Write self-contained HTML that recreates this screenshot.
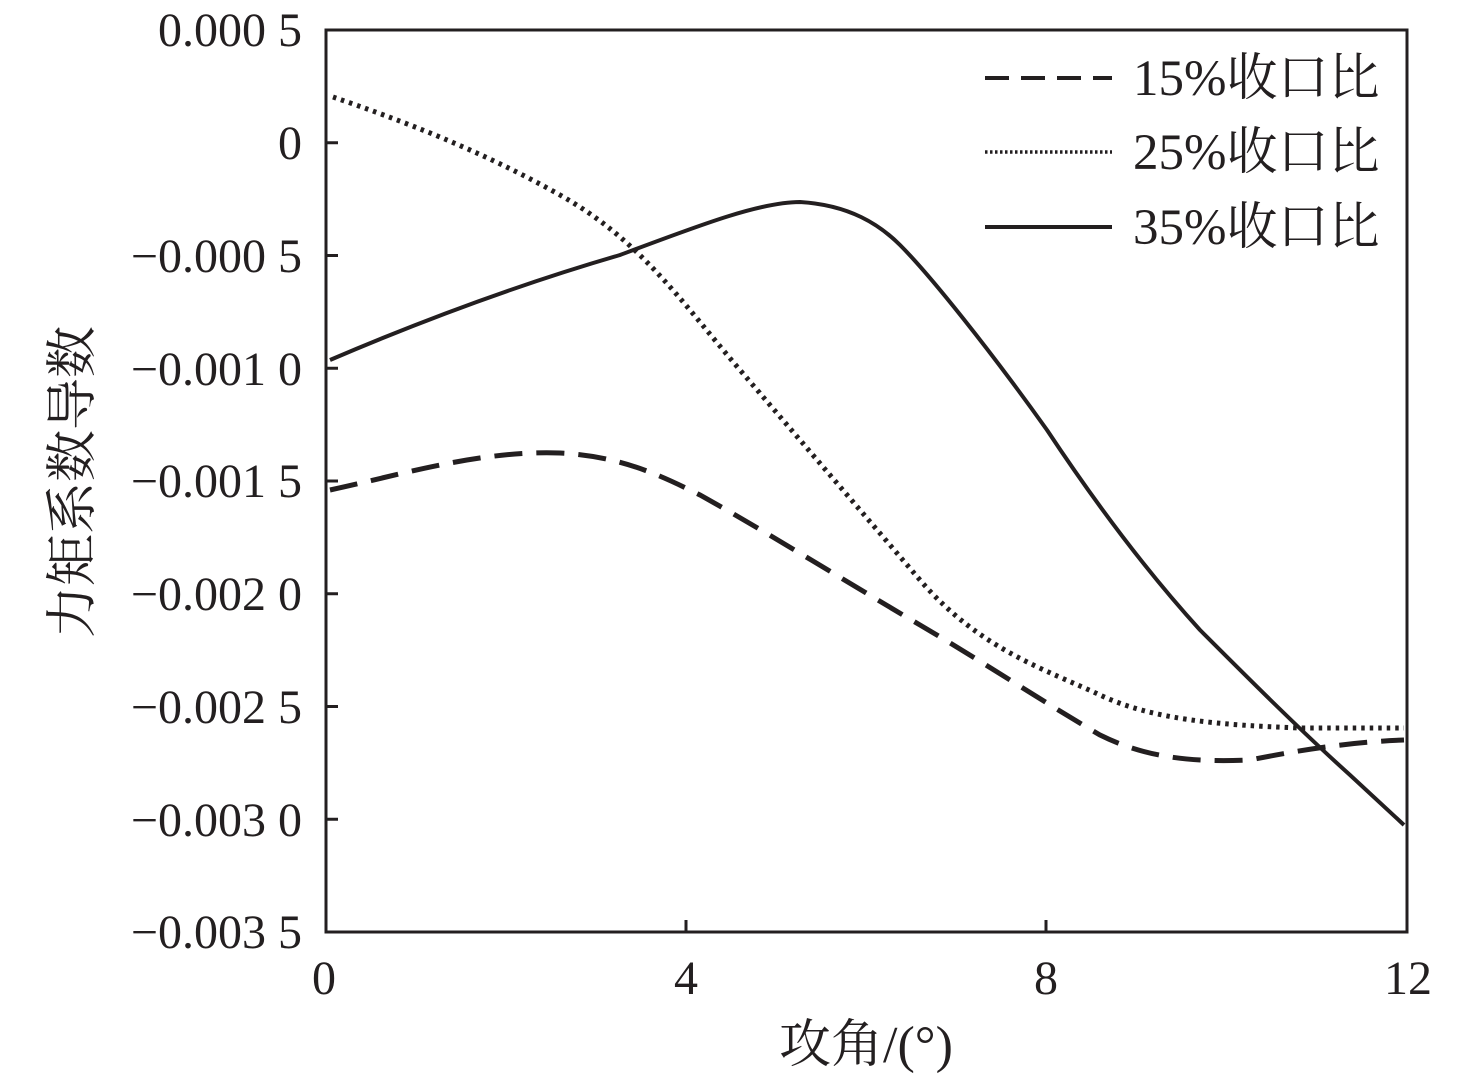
<!DOCTYPE html><html><head><meta charset="utf-8"><style>body{margin:0;background:#fff}</style></head><body>
<svg width="1476" height="1077" xmlns="http://www.w3.org/2000/svg" style="font-family:'Liberation Serif','Noto Serif CJK SC',serif;font-size:48px;fill:#231f20">
<rect x="326" y="30" width="1081" height="902" fill="none" stroke="#231f20" stroke-width="3"/>
<g stroke="#231f20" stroke-width="3">
<line x1="326" y1="142.75" x2="338" y2="142.75"/><line x1="326" y1="255.5" x2="338" y2="255.5"/><line x1="326" y1="368.25" x2="338" y2="368.25"/><line x1="326" y1="481" x2="338" y2="481"/><line x1="326" y1="593.75" x2="338" y2="593.75"/><line x1="326" y1="706.5" x2="338" y2="706.5"/><line x1="326" y1="819.25" x2="338" y2="819.25"/>
<line x1="686" y1="932" x2="686" y2="920"/><line x1="1046" y1="932" x2="1046" y2="920"/>
</g>
<g text-anchor="end">
<text x="302" y="46">0.000 5</text><text x="302" y="159">0</text><text x="302" y="272">−0.000 5</text><text x="302" y="385">−0.001 0</text><text x="302" y="497">−0.001 5</text><text x="302" y="610">−0.002 0</text><text x="302" y="723">−0.002 5</text><text x="302" y="836">−0.003 0</text><text x="302" y="948">−0.003 5</text>
</g>
<g text-anchor="middle">
<text x="324" y="994">0</text><text x="686" y="994">4</text><text x="1046" y="994">8</text><text x="1408" y="994">12</text>
<text x="866" y="1062" font-size="52">攻角/(°)</text>
<text transform="translate(90,482) rotate(-90)" font-size="52">力矩系数导数</text>
</g>
<g fill="none" stroke="#231f20">
<path stroke-width="5" stroke-dasharray="3.5,5" d="M333,97 C400,120 480,150 560,195 S680,300 740,370 S860,510 920,580 S1047,670 1100,695 S1220,725 1300,728 L1404,728"/>
<path stroke-width="4" d="M330,360 C400,330 500,290 620,255 C700,225 760,202 800,202 C850,205 880,225 900,245 C930,275 990,350 1047,430 C1100,510 1150,575 1200,630 C1250,680 1300,730 1350,775 L1404,825"/>
<path stroke-width="5" stroke-dasharray="28,14" d="M330,490 C400,475 480,450 560,453 C620,456 660,475 700,495 C760,528 860,590 920,625 C980,660 1040,700 1100,735 C1150,760 1200,762 1250,760 C1300,750 1350,742 1404,740"/>
<line x1="985" y1="78" x2="1112" y2="78" stroke-width="4" stroke-dasharray="24,12"/>
<line x1="985" y1="152" x2="1112" y2="152" stroke-width="3.5" stroke-dasharray="2.5,2.5"/>
<line x1="985" y1="227" x2="1112" y2="227" stroke-width="4"/>
</g>
<g font-size="51">
<text x="1133" y="95">15%收口比</text><text x="1133" y="169">25%收口比</text><text x="1133" y="244">35%收口比</text>
</g>
</svg></body></html>
